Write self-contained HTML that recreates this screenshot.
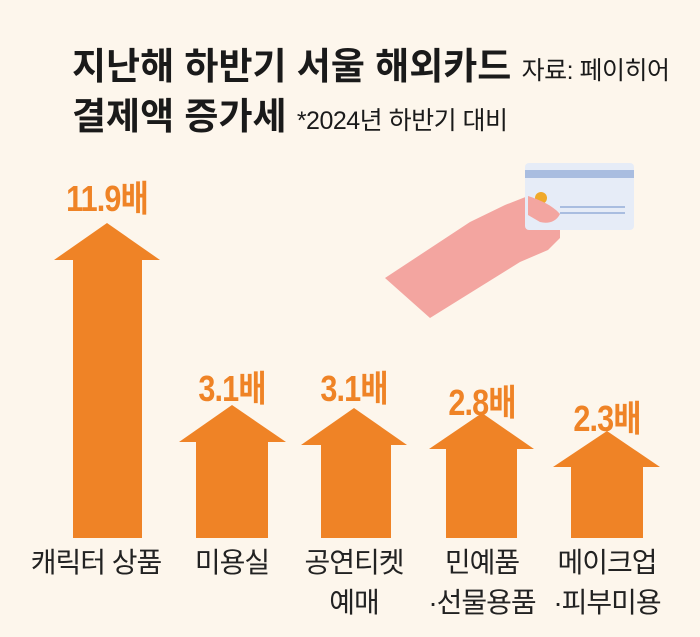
<!DOCTYPE html>
<html><head><meta charset="utf-8"><style>
body{margin:0;background:#fdf6ec;}
.c{position:relative;width:700px;height:637px;overflow:hidden;background:#fdf6ec;font-family:"Liberation Sans","Noto Sans CJK KR",sans-serif;}
.t{position:absolute;white-space:nowrap;transform-origin:left top;}
.v{position:absolute;color:#ef8326;font-weight:bold;font-size:36px;white-space:nowrap;transform:translateX(-50%) scaleX(0.85);letter-spacing:-1px;}
.l{position:absolute;color:#222;font-size:28px;white-space:nowrap;text-align:center;transform:translateX(-50%);line-height:40px;letter-spacing:-1px;}
</style></head><body><div class="c">
<div class="t" style="left:72px;top:36px;font-size:37px;font-weight:bold;color:#1a1a1a;letter-spacing:0px;">지난해 하반기 서울 해외카드 <span style="font-size:25px;font-weight:normal;letter-spacing:-0.5px;">자료: 페이히어</span></div>
<div class="t" style="left:72px;top:86px;font-size:37px;font-weight:bold;color:#1a1a1a;letter-spacing:0px;">결제액 증가세 <span style="font-size:25px;font-weight:normal;letter-spacing:-0.5px;">*2024년 하반기 대비</span></div>

<svg width="700" height="637" style="position:absolute;left:0;top:0">
<g fill="#ef8326">
<polygon points="107,223 160,260 142,260 142,538 73,538 73,260 54,260"/>
<polygon points="232,405 286,442 268,442 268,538 196,538 196,442 179,442"/>
<polygon points="354,408 407,445 391,445 391,538 321,538 321,445 301,445"/>
<polygon points="482,413 534,449 517,449 517,538 446,538 446,449 429,449"/>
<polygon points="607,431 660,467 643,467 643,538 571,538 571,467 553,467"/>
</g>
<polygon points="385,278 430,318 475,290 520,262 548,250 560,238 560,226 540,214 528,196 505,205 470,222" fill="#f3a5a0"/>
<rect x="525" y="163" width="109" height="67" rx="4" fill="#e6ecf7"/>
<rect x="525" y="170" width="109" height="8" fill="#a9bde0"/>
<circle cx="541" cy="198" r="6" fill="#f0a92a"/>
<rect x="560" y="206" width="65" height="2" fill="#a9bde0"/>
<rect x="560" y="212" width="65" height="2" fill="#a9bde0"/>
<path d="M528,196 C540,200 552,205 560,214 C556,222 548,224 540,222 L528,215 Z" fill="#f3a5a0"/>
</svg>

<div class="v" style="left:107px;top:170px;">11.9배</div>
<div class="v" style="left:232px;top:360px;">3.1배</div>
<div class="v" style="left:354px;top:360px;">3.1배</div>
<div class="v" style="left:482px;top:374px;">2.8배</div>
<div class="v" style="left:607px;top:390px;">2.3배</div>

<div class="l" style="left:96px;top:543px;">캐릭터 상품</div>
<div class="l" style="left:232px;top:543px;">미용실</div>
<div class="l" style="left:354px;top:543px;">공연티켓<br>예매</div>
<div class="l" style="left:482px;top:543px;">민예품<br>·선물용품</div>
<div class="l" style="left:607px;top:543px;">메이크업<br>·피부미용</div>
</div></body></html>
